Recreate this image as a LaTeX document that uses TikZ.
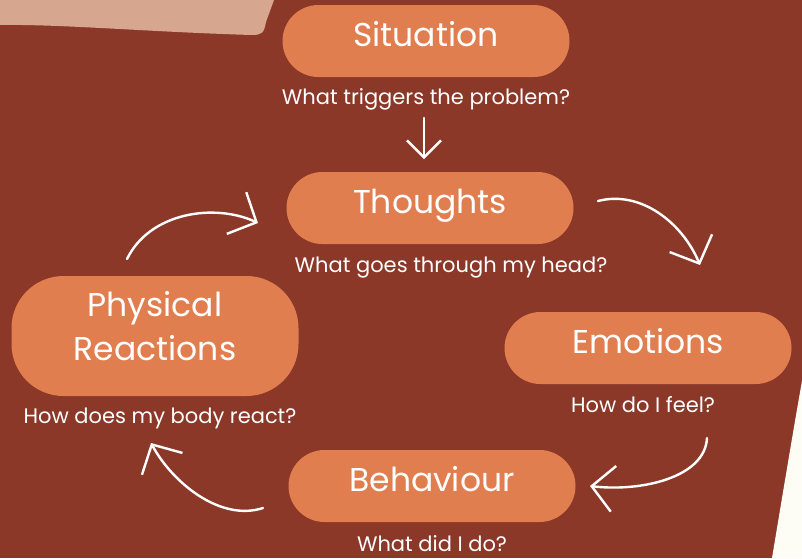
\documentclass[tikz,border=0pt]{standalone}
\usepackage{fontspec}
\setmainfont{Poppins}
\usetikzlibrary{arrows.meta}

\definecolor{bgbrown}{RGB}{139,56,41}
\definecolor{pillorange}{RGB}{224,126,79}
\definecolor{peach}{RGB}{214,166,142}
\definecolor{cream}{RGB}{254,253,245}

\tikzset{
	pill/.style={fill=pillorange, draw=none, text=white, font=\fontsize{33}{44}\selectfont,
		minimum width=287pt, minimum height=72pt, rounded corners=36pt, inner sep=0pt,
		text height=24pt, text depth=14pt},
	caption/.style={text=white, font=\fontsize{21}{25}\selectfont, inner sep=0pt},
	loop/.style={draw=white, line width=2.4pt, line cap=round,
		-{Straight Barb[length=22pt,width=46pt,line width=2.4pt]}},
}

\begin{document}
\begin{tikzpicture}[x=1pt,y=-1pt]
	% background
	\fill[bgbrown] (0,0) rectangle (802,558);
	\useasboundingbox (0,0) rectangle (802,558);
	\fill[peach] (0,0) -- (274,0) -- (266,22) .. controls (264,33) and (262,35) .. (252,35)
		.. controls (150,32) and (60,24) .. (0,25) -- cycle;
	\fill[cream] (802,381) .. controls (795,420) and (785,480) .. (772,558) -- (802,558) -- cycle;

	% boxes
	\node[pill] (situation) at (426,41) {Situation};
	\node[pill] (thoughts) at (430,208) {Thoughts};
	\node[pill] (emotions) at (648,348) {Emotions};
	\node[pill] (behaviour) at (432,486) {Behaviour};
	\node[pill, minimum height=120pt, rounded corners=52pt, text height=, text depth=] (physical)
		at (155,336) {\raisebox{6pt}[\height][\depth]{\begin{tabular}{@{}c@{}}Physical\\Reactions\end{tabular}}};

	% questions
	\node[caption] (q1) at (426,99) {What triggers the problem?};
	\node[caption] (q2) at (451,268) {What goes through my head?};
	\node[caption] (q3) at (643,405) {How do I feel?};
	\node[caption] (q4) at (432,544) {What did I do?};
	\node[caption] (q5) at (160,418) {How does my body react?};

	% arrows
	\coordinate (d1) at (424,118);
	\coordinate (d2) at (424,159);
	\draw[draw=white, line width=2.4pt, line cap=round,
		-{Straight Barb[length=17pt,width=34pt,line width=2.4pt]}] (d1) -- (d2);

	\coordinate (a1) at (127,259);
	\coordinate (a2) at (258,223);
	\draw[loop] (a1) .. controls (150,212) and (215,203) .. (a2);

	\coordinate (b1) at (598,201);
	\coordinate (b2) at (700,265);
	\draw[loop] (b1) .. controls (640,190) and (682,222) .. (b2);

	\coordinate (c1) at (707,438);
	\coordinate (c2) at (590,486);
	\draw[loop] (c1) .. controls (705,478) and (640,492) .. (c2);

	\coordinate (e1) at (263,508);
	\coordinate (e2) at (151,443);
	\draw[loop] (e1) .. controls (220,522) and (172,482) .. (e2);
\end{tikzpicture}
\end{document}
